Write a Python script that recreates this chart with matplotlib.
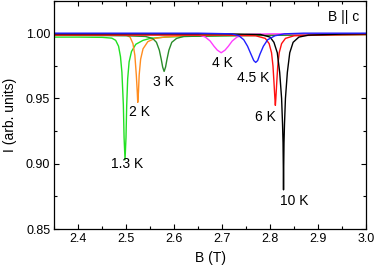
import matplotlib
matplotlib.use("Agg")
import matplotlib.pyplot as plt
from matplotlib.ticker import MultipleLocator, FormatStrFormatter

plt.rcParams['font.family'] = ['Liberation Sans', 'DejaVu Sans']

# Field values (T) and intensities for each temperature
B_13K = [2.35, 2.40, 2.45, 2.47, 2.478, 2.484, 2.488, 2.491, 2.494, 2.4955, 2.4975,
         2.4995, 2.501, 2.503, 2.506, 2.511, 2.520, 2.535, 2.55, 2.58, 2.62, 2.70, 2.80, 2.90, 3.00]
I_13K = [0.9970, 0.9970, 0.9968, 0.9962, 0.9945, 0.990, 0.982, 0.970, 0.945, 0.920, 0.903,
         0.920, 0.945, 0.965, 0.978, 0.986, 0.9915, 0.9945, 0.996, 0.997, 0.9975, 0.998, 0.9985, 0.999, 0.999]

B_2K = [2.35, 2.45, 2.50, 2.508, 2.514, 2.518, 2.521, 2.523, 2.524, 2.5255, 2.527, 2.530,
        2.535, 2.545, 2.56, 2.58, 2.62, 2.70, 3.00]
I_2K = [0.9990, 0.9990, 0.9985, 0.997, 0.992, 0.983, 0.968, 0.955, 0.947, 0.955, 0.968, 0.980,
        0.988, 0.9935, 0.996, 0.997, 0.998, 0.9985, 0.999]

B_3K = [2.35, 2.50, 2.54, 2.555, 2.563, 2.569, 2.573, 2.576, 2.579, 2.582, 2.585, 2.589,
        2.595, 2.605, 2.62, 2.70, 3.00]
I_3K = [0.9985, 0.998, 0.9975, 0.996, 0.993, 0.987, 0.980, 0.974, 0.9707, 0.974, 0.980, 0.987,
        0.993, 0.996, 0.9975, 0.998, 0.999]

B_4K = [2.35, 2.60, 2.65, 2.665, 2.675, 2.683, 2.690, 2.698, 2.706, 2.713, 2.721, 2.731,
        2.75, 2.80, 3.00]
I_4K = [0.9995, 0.9993, 0.999, 0.997, 0.994, 0.990, 0.987, 0.985, 0.987, 0.990, 0.994, 0.997,
        0.999, 0.9995, 0.9995]

B_45K = [2.35, 2.65, 2.72, 2.735, 2.745, 2.753, 2.760, 2.766, 2.770, 2.774, 2.779, 2.786,
         2.795, 2.81, 2.83, 2.87, 3.00]
I_45K = [1.000, 1.000, 0.9995, 0.998, 0.995, 0.990, 0.984, 0.979, 0.9776, 0.979, 0.984, 0.990,
         0.995, 0.998, 0.9995, 1.000, 1.000]

B_6K = [2.35, 2.70, 2.77, 2.790, 2.798, 2.803, 2.806, 2.808, 2.810, 2.811, 2.812, 2.814,
        2.816, 2.819, 2.824, 2.832, 2.85, 2.90, 3.00]
I_6K = [0.9985, 0.9985, 0.998, 0.996, 0.992, 0.985, 0.975, 0.963, 0.950, 0.9447, 0.950, 0.963,
        0.975, 0.985, 0.992, 0.996, 0.998, 0.9985, 0.999]

B_10K = [2.35, 2.70, 2.78, 2.800, 2.808, 2.815, 2.820, 2.824, 2.826, 2.827, 2.8275, 2.828,
         2.8285, 2.829, 2.830, 2.832, 2.836, 2.841, 2.848, 2.86, 2.88, 2.95, 3.00]
I_10K = [0.9995, 0.9995, 0.999, 0.997, 0.993, 0.985, 0.970, 0.950, 0.930, 0.916, 0.900, 0.880,
         0.900, 0.916, 0.930, 0.950, 0.970, 0.985, 0.993, 0.997, 0.9985, 0.9993, 0.9995]

labels = ["1.3 K", "2 K", "3 K", "4 K", "4.5 K", "6 K", "10 K"]
label_B = [2.502, 2.528, 2.578, 2.701, 2.765, 2.790, 2.851]
label_I = [0.8996, 0.9396, 0.9625, 0.9774, 0.9656, 0.936, 0.8716]

fig = plt.figure(figsize=(3.74, 2.68), dpi=100)
ax = fig.add_axes([0.1452, 0.1455, 0.9786 - 0.1452, 0.998 - 0.1455])

lw = 1.0
ax.plot(B_13K, I_13K, color='#22e022', lw=lw)
ax.plot(B_2K, I_2K, color='#ff8c1f', lw=lw)
ax.plot(B_3K, I_3K, color='#2a8c2a', lw=lw)
ax.plot(B_4K, I_4K, color='#ff3cff', lw=lw)
ax.plot(B_6K, I_6K, color='#ff1010', lw=lw)
ax.plot(B_10K, I_10K, color='black', lw=lw)
ax.plot(B_45K, I_45K, color='#2020ff', lw=lw)

for t, bx, iy in zip(labels, label_B, label_I):
    ax.text(bx, iy, t, ha='center', va='center', fontsize=10)
ax.text(2.953, 1.0122, "B || c", ha='center', va='center', fontsize=10)

ax.set_xlim(2.35, 3.0)
ax.set_ylim(0.85, 1.025)
ax.xaxis.set_major_locator(MultipleLocator(0.1))
ax.xaxis.set_minor_locator(MultipleLocator(0.05))
ax.yaxis.set_major_locator(MultipleLocator(0.05))
ax.yaxis.set_minor_locator(MultipleLocator(0.025))
ax.xaxis.set_major_formatter(FormatStrFormatter('%.1f'))
ax.yaxis.set_major_formatter(FormatStrFormatter('%.2f'))
ax.tick_params(which='both', direction='in', top=True, right=True, labelsize=9, pad=3)
ax.tick_params(which='major', length=3.6, width=0.8)
ax.tick_params(which='minor', length=2.0, width=0.8)
for s in ax.spines.values():
    s.set_linewidth(0.9)

ax.set_xlabel("B (T)", fontsize=10, labelpad=4)
ax.set_ylabel("I (arb. units)", fontsize=10, labelpad=6)

fig.savefig("out.png", dpi=100)
